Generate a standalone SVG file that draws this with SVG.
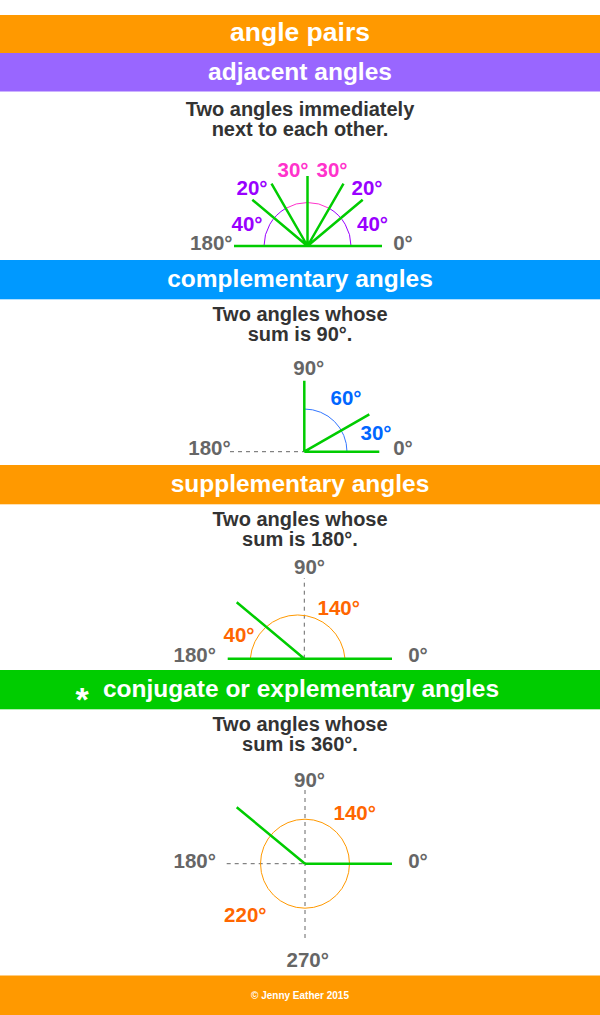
<svg xmlns="http://www.w3.org/2000/svg" width="600" height="1015" viewBox="0 0 600 1015">
<style>
text{font-family:"Liberation Sans",Arial,Helvetica,sans-serif;font-weight:bold;text-anchor:middle}
.hd{fill:#fff;font-size:24.5px}
.desc{fill:#333;font-size:20px}
.lbl{font-size:20.5px;fill:#666}
.mag{fill:#ff33cc}.pur{fill:#9900ff}.blu{fill:#0066ff}.org{fill:#ff6600}
.g{stroke:#00cc00;stroke-width:2.5;fill:none;stroke-linecap:butt}
.dash{stroke:#666;stroke-width:1;stroke-dasharray:4 4;fill:none}
.arc{fill:none;stroke-width:1}
</style>
<rect width="600" height="1015" fill="#fff"/>
<g id="title">
<rect x="0" y="15" width="600" height="38" fill="#ff9900"/>
<text class="hd" x="300" y="41" style="font-size:26.5px">angle pairs</text>
</g>
<g id="adjacent">
<rect x="0" y="53" width="600" height="38.5" fill="#9966ff"/>
<text class="hd" x="300" y="79.5">adjacent angles</text>
<text class="desc" x="300" y="115.5">Two angles immediately</text>
<text class="desc" x="300" y="135.5">next to each other.</text>
<path class="arc" stroke="#9900ff" d="M351,246 A43.5,43.5 0 0 0 329.25,208.33 M285.75,208.33 A43.5,43.5 0 0 0 264,246"/>
<path class="arc" stroke="#ff33cc" d="M329.25,208.33 A43.5,43.5 0 0 0 285.75,208.33"/>
<path class="g" d="M234,246 H382 M307.5,246 L362.7,199.7 M307.5,246 L343.5,183.6 M307.5,246 V176 M307.5,246 L271.5,183.6 M307.5,246 L252.3,199.7"/>
<text class="lbl mag" x="293" y="177">30°</text>
<text class="lbl mag" x="332" y="177">30°</text>
<text class="lbl pur" x="252" y="195">20°</text>
<text class="lbl pur" x="367" y="195">20°</text>
<text class="lbl pur" x="247" y="231">40°</text>
<text class="lbl pur" x="372.5" y="231">40°</text>
<text class="lbl" x="211.3" y="250">180°</text>
<text class="lbl" x="403" y="250">0°</text>
</g>
<g id="complementary">
<rect x="0" y="260" width="600" height="39.3" fill="#0099ff"/>
<text class="hd" x="300" y="286.7">complementary angles</text>
<text class="desc" x="300" y="321">Two angles whose</text>
<text class="desc" x="300" y="341">sum is 90°.</text>
<path class="dash" d="M230,451.7 H304"/>
<path class="arc" stroke="#3377ff" d="M347,451.7 A42.7,42.7 0 0 0 304.3,409"/>
<path class="g" d="M304.3,451.7 V380.7 M304.3,451.7 H379.3 M304.3,451.7 L369.3,414.3"/>
<text class="lbl" x="308.8" y="375">90°</text>
<text class="lbl blu" x="346" y="405">60°</text>
<text class="lbl blu" x="376" y="440">30°</text>
<text class="lbl" x="209.5" y="455">180°</text>
<text class="lbl" x="403" y="455">0°</text>
</g>
<g id="supplementary">
<rect x="0" y="465" width="600" height="39.3" fill="#ff9900"/>
<text class="hd" x="300" y="491.7">supplementary angles</text>
<text class="desc" x="300" y="526">Two angles whose</text>
<text class="desc" x="300" y="546">sum is 180°.</text>
<path class="dash" d="M304.3,658.7 V578"/>
<path class="arc" stroke="#ff9900" d="M250.3,658.7 A47.5,47.5 0 0 1 345,658.7"/>
<path class="g" d="M227.7,658.7 H392 M304.3,658.7 L236.7,602.3"/>
<text class="lbl" x="309.5" y="574">90°</text>
<text class="lbl org" x="338.7" y="615">140°</text>
<text class="lbl org" x="239" y="642.3">40°</text>
<text class="lbl" x="194.7" y="662.3">180°</text>
<text class="lbl" x="418" y="662.3">0°</text>
</g>
<g id="conjugate">
<rect x="0" y="670" width="600" height="39.3" fill="#00cc00"/>
<text class="hd" x="82" y="711" style="font-size:34px">*</text>
<text class="hd" x="301" y="696.7" style="font-size:24.5px">conjugate or explementary angles</text>
<text class="desc" x="300" y="731">Two angles whose</text>
<text class="desc" x="300" y="751">sum is 360°.</text>
<path class="dash" d="M305,790 V941.7 M226.7,863.7 H305"/>
<circle class="arc" stroke="#ff9900" cx="305" cy="863.7" r="44.5"/>
<path class="g" d="M305,863.7 H392 M305,863.7 L236.7,807.3"/>
<text class="lbl" x="309.5" y="786.7">90°</text>
<text class="lbl org" x="354.7" y="820">140°</text>
<text class="lbl" x="194.7" y="868.3">180°</text>
<text class="lbl" x="418" y="868.3">0°</text>
<text class="lbl org" x="245.3" y="922.3">220°</text>
<text class="lbl" x="307.7" y="966.7">270°</text>
</g>
<g id="footer">
<rect x="0" y="975.5" width="600" height="39.5" fill="#ff9900"/>
<text x="300" y="999" style="fill:#fff;font-size:10px">© Jenny Eather 2015</text>
</g>
<g id="connectors"></g>
</svg>
